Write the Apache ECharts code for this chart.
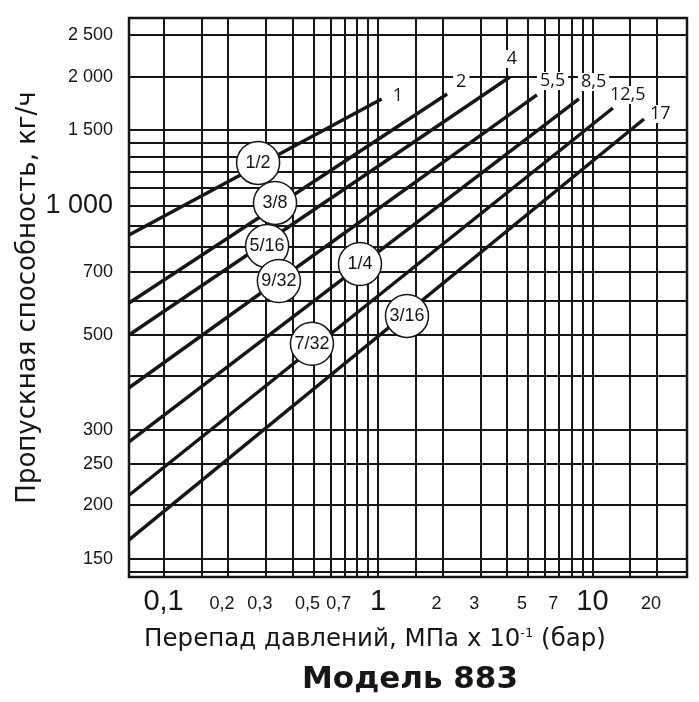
<!DOCTYPE html>
<html>
<head>
<meta charset="utf-8">
<script src="https://cdn.jsdelivr.net/npm/echarts@6/dist/echarts.min.js"></script>
<style>
  html, body { margin: 0; padding: 0; background: #fff; }
  #chart { width: 699px; height: 702px; }
</style>
</head>
<body>
<div id="chart"></div>
<script>
// Перепад давлений (бар): сетка и подписи
var xGrid = [0.1, 0.15, 0.2, 0.3, 0.4, 0.5, 0.6, 0.7, 0.8, 0.9, 1, 1.5, 2, 3, 4, 5, 6, 7, 8, 9, 10, 15, 20];
var xLabels = [0.1, 0.2, 0.3, 0.5, 0.7, 1, 2, 3, 5, 7, 10, 20];
// Пропускная способность (кг/ч): сетка и подписи
var yGrid = [140, 150, 200, 250, 300, 400, 500, 600, 700, 800, 900, 1000, 1100, 1200, 1300, 1400, 1500, 2000, 2500];
var yLabels = [150, 200, 250, 300, 500, 700, 1000, 1500, 2000, 2500];

// линии: подпись, начало и конец
var lineNames = ['1', '2', '4', '5,5', '8,5', '12,5', '17'];
var dpStart = [0.069, 0.069, 0.069, 0.069, 0.069, 0.069, 0.069];
var dpEnd = [1.04, 2.1, 4.12, 5.51, 8.65, 12.46, 17.4];
var flowStart = [854, 593, 499, 376, 281, 211, 166];
var flowEnd = [1774, 1822, 1996, 1813, 1774, 1690, 1593];

// кружки с размерами
var sizeNames = ['1/2', '3/8', '5/16', '9/32', '1/4', '7/32', '3/16'];
var sizeDp = [0.276, 0.331, 0.304, 0.345, 0.824, 0.492, 1.365];
var sizeFlow = [1258, 1015, 805, 667, 731, 476, 553];

var ink = '#161616';
var endOffsets = [[0, -3], [-2, -12], [-14, -18], [-8, -14], [-9, -17], [-14, -13], [-5, -5]];

document.addEventListener('DOMContentLoaded', function () {
  var chart = echarts.init(document.getElementById('chart'));

  var series = lineNames.map(function (name, i) {
    return {
      name: name,
      type: 'line',
      symbol: 'none',
      silent: true,
      z: 3,
      lineStyle: { color: ink, width: 3.5 },
      endLabel: {
        show: true,
        formatter: name,
        offset: endOffsets[i],
        color: ink,
        fontFamily: 'Open Sans, Noto Sans, sans-serif',
        fontSize: 18,
        backgroundColor: '#fff',
        padding: [0, 3, 0, 3]
      },
      data: [
        [dpStart[i], flowStart[i]],
        [dpEnd[i], flowEnd[i]]
      ]
    };
  });

  series.push({
    name: 'sizes',
    type: 'scatter',
    z: 5,
    symbol: 'circle',
    symbolSize: 43,
    itemStyle: { color: '#fff', borderColor: ink, borderWidth: 1.5, opacity: 1 },
    label: {
      show: true,
      position: 'inside',
      formatter: function (p) { return p.data[2]; },
      color: ink,
      fontFamily: 'Liberation Sans Narrow, Liberation Sans, sans-serif',
      fontSize: 18
    },
    data: sizeNames.map(function (n, i) { return [sizeDp[i], sizeFlow[i], n]; })
  });

  var option = {
    backgroundColor: '#fff',
    animation: false,
    grid: {
      left: 129, right: 12, top: 18, bottom: 125,
      show: true, borderColor: ink, borderWidth: 2.5
    },
    title: [
      {
        text: 'Перепад давлений, МПа x 10{s|-1} (бар)',
        left: 370, top: 622, textAlign: 'center',
        textStyle: {
          fontFamily: 'DejaVu Sans, sans-serif', fontSize: 24.5, fontWeight: 'normal', color: ink,
          rich: { s: { fontSize: 13, verticalAlign: 'top', fontFamily: 'DejaVu Sans, sans-serif' } }
        }
      },
      {
        text: 'Модель 883',
        left: 405, top: 659, textAlign: 'center',
        textStyle: { fontFamily: 'DejaVu Sans, sans-serif', fontSize: 31, fontWeight: 'bold', color: ink }
      }
    ],
    xAxis: {
      type: 'log',
      min: 0.069,
      max: 27.6,
      axisLine: { show: true, lineStyle: { color: ink, width: 2 } },
      axisTick: { show: false, customValues: xGrid },
      splitLine: { show: true, lineStyle: { color: ink, width: 2 } },
      axisLabel: {
        customValues: xLabels,
        margin: 10,
        color: ink,
        formatter: function (v) {
          var r = Math.round(v * 100) / 100;
          var s = String(r).replace('.', ',');
          return (r === 0.1 || r === 1 || r === 10) ? '{b|' + s + '}' : '{s|' + s + '}';
        },
        rich: {
          b: { fontSize: 29, fontFamily: 'Liberation Sans Narrow, Liberation Sans, sans-serif', color: ink },
          s: { fontSize: 18, fontFamily: 'Liberation Sans Narrow, Liberation Sans, sans-serif', color: ink, padding: [8, 12, 0, 0] }
        }
      }
    },
    yAxis: {
      type: 'log',
      min: 136,
      max: 2741,
      name: 'Пропускная способность, кг/ч',
      nameLocation: 'middle',
      nameGap: 88,
      nameMoveOverlap: false,
      nameTextStyle: { fontFamily: 'DejaVu Sans, sans-serif', fontSize: 26, color: ink },
      axisLine: { show: true, lineStyle: { color: ink, width: 2 } },
      axisTick: { show: false, customValues: yGrid },
      splitLine: { show: true, lineStyle: { color: ink, width: 2 } },
      axisLabel: {
        customValues: yLabels,
        margin: 16,
        color: ink,
        formatter: function (v) {
          var r = Math.round(v);
          var s = String(r).replace(/\B(?=(\d{3})+(?!\d))/g, ' ');
          return r === 1000 ? '{b|' + s + '}' : '{s|' + s + '}';
        },
        rich: {
          b: { fontSize: 27, fontFamily: 'Liberation Sans, sans-serif', color: ink },
          s: { fontSize: 18, fontFamily: 'Liberation Sans, sans-serif', color: ink }
        }
      }
    },
    series: series
  };

  chart.setOption(option);
});
</script>
</body>
</html>
